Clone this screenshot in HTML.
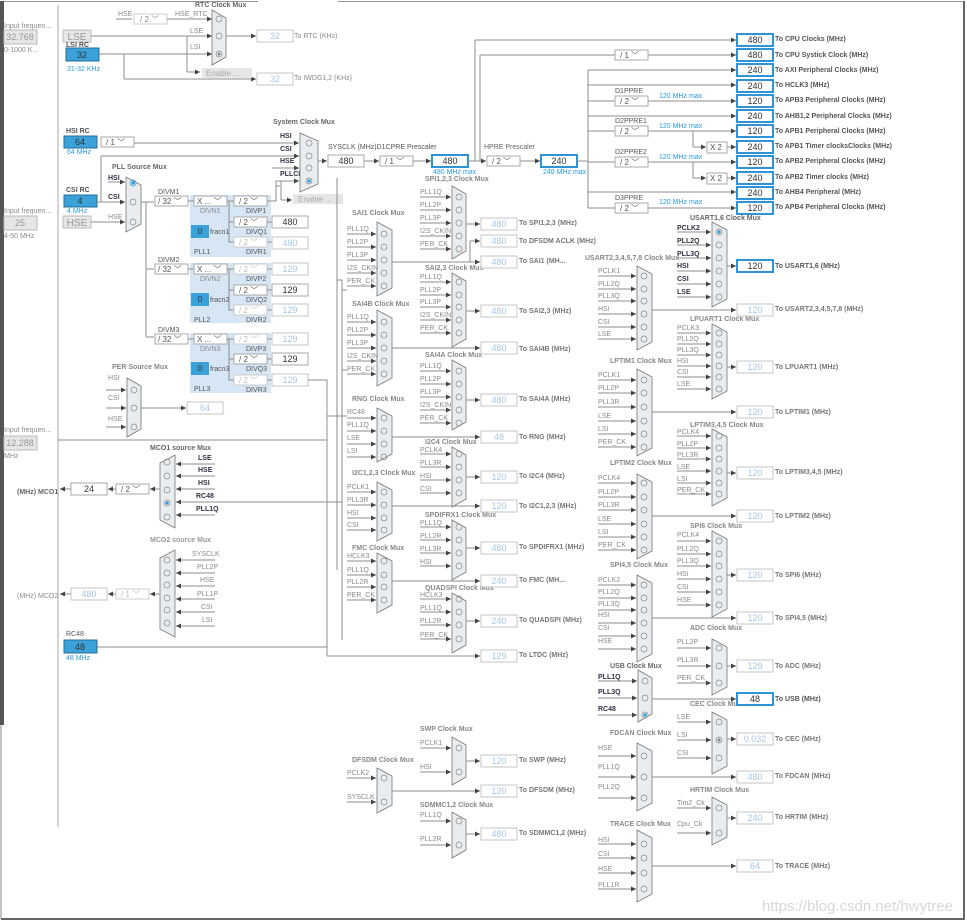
<!DOCTYPE html>
<html><head><meta charset="utf-8"><style>
html,body{margin:0;padding:0;background:#fff;}
svg{display:block}
text{font-family:"Liberation Sans",sans-serif;font-size:7px;fill:#8a8a8a}
.b{font-weight:bold;fill:#555}
.t{font-weight:bold;fill:#666}
.d{fill:#334;font-weight:bold}
.bl{fill:#2a9be0}
.v{font-size:9px;text-anchor:middle;fill:#a9c6e6}
.vd{font-size:9px;text-anchor:middle;fill:#333}
.bx{fill:#fff;stroke:#c4c4c4;stroke-width:1}
.ba{fill:#fff;stroke:#2f93d6;stroke-width:2}
.bn{fill:#fff;stroke:#aaa;stroke-width:1}
.dd{fill:#fff;stroke:#aaa;stroke-width:1}
.ddl{fill:#fff;stroke:#ccc;stroke-width:1}
.rc{fill:#3aa1d9;stroke:#256e9a;stroke-width:1}
.g{fill:#e4e6e8;stroke:#bbb}
.mx{fill:#e9edf0;stroke:#777;stroke-width:.8}
.pl{fill:#d6e6f4}
line,path.w{stroke:#8d8d8d;stroke-width:1;fill:none}
circle{fill:none;stroke:#888;stroke-width:.7}
circle.s{fill:#2a9be0;stroke:#2a9be0}
</style></head><body>
<svg width="967" height="923" viewBox="0 0 967 923" xmlns="http://www.w3.org/2000/svg">
<defs><marker id="a" markerWidth="6" markerHeight="6" refX="5" refY="3" orient="auto" markerUnits="userSpaceOnUse"><path d="M0,0.5L5,3L0,5.5z" fill="#444"/></marker></defs>
<rect x="0" y="1" width="4" height="724" fill="#555"/>
<line x1="4" y1="1.5" x2="258" y2="1.5" style="stroke:#999"/>
<line x1="338" y1="1.5" x2="963" y2="1.5" style="stroke:#999"/>
<line x1="964" y1="1" x2="964" y2="920" style="stroke:#666;stroke-width:2"/>
<line x1="1" y1="919" x2="964" y2="919" style="stroke:#666;stroke-width:2"/>
<line x1="1" y1="725" x2="1" y2="919" style="stroke:#888"/>
<line x1="58" y1="5" x2="58" y2="827" style="stroke:#aaa"/>

<text x="4" y="28">Input frequen...</text>
<rect x="4" y="30" width="33" height="14" class="g"/><text x="20" y="40" class="v" style="fill:#999">32.768</text>
<text x="4" y="52">0-1000 K...</text>
<rect x="63" y="30" width="28" height="12" class="g"/><text x="77" y="40" class="v" style="fill:#999;font-size:10px">LSE</text>
<text x="66" y="47" class="b">LSI RC</text>
<rect x="66" y="48" width="33" height="13" class="rc"/><text x="82" y="58" class="vd">32</text>
<text x="67" y="71" class="bl">31-32 KHz</text>
<text x="4" y="213">Input frequen...</text>
<rect x="4" y="216" width="33" height="14" class="g"/><text x="20" y="226" class="v" style="fill:#999">25</text>
<text x="4" y="238">4-50 MHz</text>
<rect x="63" y="216" width="28" height="12" class="g"/><text x="77" y="226" class="v" style="fill:#999;font-size:10px">HSE</text>
<text x="4" y="432">Input frequen...</text>
<rect x="4" y="436" width="33" height="14" class="g"/><text x="20" y="446" class="v" style="fill:#999">12.288</text>
<text x="4" y="458">MHz</text>

<text x="195" y="7" class="t">RTC Clock Mux</text>
<text x="118" y="16">HSE</text><line x1="116" y1="19" x2="132" y2="19"/>
<rect x="134" y="14" width="33" height="10" class="ddl"/><text x="140" y="22" style="font-size:8px">/ 2 ﹀</text>
<text x="175" y="16">HSE_RTC</text>
<g marker-end="url(#a)">
<line x1="167" y1="19" x2="212" y2="19"/>
<line x1="91" y1="36" x2="212" y2="36"/>
<line x1="99" y1="54" x2="212" y2="54"/>
<line x1="187" y1="72" x2="200" y2="72"/>
<line x1="226" y1="36" x2="256" y2="36"/>
<line x1="124" y1="79" x2="256" y2="79"/>
</g>
<line x1="187" y1="36" x2="187" y2="72"/>
<line x1="124" y1="54" x2="124" y2="79"/>
<text x="190" y="33">LSE</text><text x="190" y="49">LSI</text>
<polygon points="212,10 226,18 226,57 212,65" class="mx"/>
<circle cx="219" cy="19" r="3"/><circle cx="219" cy="36" r="3"/><circle cx="219" cy="54" r="3"/><circle cx="219" cy="54" r="1.2" style="fill:#888"/>
<rect x="202" y="68" width="50" height="10" fill="#e6e6e6"/><text x="206" y="76" style="font-size:8px;fill:#aaa">Enable ...</text>
<rect x="257" y="30" width="36" height="12" class="bx"/><text x="275" y="39" class="v">32</text><text x="294" y="38">To RTC (KHz)</text>
<rect x="257" y="73" width="36" height="12" class="bx"/><text x="275" y="82" class="v">32</text><text x="294" y="80">To IWDG1,2 (KHz)</text>

<text x="66" y="133" class="b">HSI RC</text>
<rect x="64" y="136" width="33" height="12" class="rc"/><text x="80" y="145" class="vd">64</text>
<text x="67" y="154" class="bl">64 MHz</text>
<rect x="101" y="137" width="33" height="10" class="dd"/><text x="106" y="145" style="font-size:8px;fill:#555">/ 1 ﹀</text>
<text x="66" y="192" class="b">CSI RC</text>
<rect x="64" y="195" width="33" height="12" class="rc"/><text x="80" y="204" class="vd">4</text>
<text x="67" y="213" class="bl">4 MHz</text>
<g marker-end="url(#a)">
<line x1="134" y1="143" x2="299" y2="143"/>
<line x1="101" y1="156" x2="299" y2="156"/>
<line x1="272" y1="168" x2="299" y2="168"/>
<line x1="281" y1="181" x2="299" y2="181"/>
<line x1="97" y1="202" x2="125" y2="202"/>
<line x1="108" y1="182" x2="125" y2="182"/>
<line x1="91" y1="222" x2="125" y2="222"/>
<line x1="318" y1="161" x2="327" y2="161"/>
<line x1="364" y1="161" x2="379" y2="161"/>
<line x1="413" y1="161" x2="431" y2="161"/>
<line x1="468" y1="161" x2="486" y2="161"/>
<line x1="520" y1="161" x2="540" y2="161"/>
<line x1="281" y1="200" x2="292" y2="200"/>
</g>
<path class="w" d="M101,202V156"/>
<path class="w" d="M281,200V181"/>
<path class="w" d="M276,199V181H281"/>
<text x="108" y="180" class="d">HSI</text><text x="108" y="199" class="d">CSI</text><text x="108" y="219">HSE</text>
<text x="112" y="169" class="t">PLL Source Mux</text>
<polygon points="126,177 141,185 141,224 126,232" class="mx"/>
<circle cx="133" cy="183" r="3" class="s" style="fill:none"/><circle cx="133" cy="183" r="1.3" class="s"/><circle cx="133" cy="202" r="3"/><circle cx="133" cy="222" r="3"/>

<text x="273" y="124" class="t">System Clock Mux</text>
<text x="280" y="138" class="d">HSI</text><text x="280" y="151" class="d">CSI</text><text x="280" y="163" class="d">HSE</text><text x="280" y="176" class="d">PLLCLK</text>
<polygon points="300,133 318,141 318,184 300,192" class="mx"/>
<circle cx="309" cy="143" r="3"/><circle cx="309" cy="156" r="3"/><circle cx="309" cy="168" r="3"/><circle cx="309" cy="181" r="3"/><circle cx="309" cy="181" r="1.3" class="s"/>
<rect x="293" y="194" width="50" height="10" fill="#e6e6e6"/><text x="298" y="202" style="font-size:8px;fill:#aaa">Enable ...</text>
<text x="328" y="149" style="fill:#555">SYSCLK (MHz)D1CPRE Prescaler</text>
<rect x="328" y="155" width="36" height="12" class="bn"/><text x="346" y="164" class="vd">480</text>
<rect x="380" y="156" width="33" height="10" class="dd"/><text x="385" y="164" style="font-size:8px;fill:#555">/ 1 ﹀</text>
<rect x="432" y="155" width="36" height="12" class="ba"/><text x="450" y="164" class="vd">480</text>
<text x="433" y="174" class="bl">480 MHz max</text>
<text x="484" y="149" style="fill:#666">HPRE Prescaler</text>
<rect x="487" y="156" width="33" height="10" class="dd"/><text x="492" y="164" style="font-size:8px;fill:#555">/ 2 ﹀</text>
<rect x="541" y="155" width="36" height="12" class="ba"/><text x="559" y="164" class="vd">240</text>
<text x="543" y="174" class="bl">240 MHz max</text>

<path class="w" d="M468,161H475V40"/>
<g marker-end="url(#a)">
<line x1="475" y1="40" x2="736" y2="40"/>
<line x1="648" y1="55" x2="736" y2="55"/>
<line x1="588" y1="70" x2="736" y2="70"/>
<line x1="588" y1="85" x2="736" y2="85"/>
<line x1="648" y1="101" x2="736" y2="101"/>
<line x1="588" y1="116" x2="736" y2="116"/>
<line x1="648" y1="131" x2="736" y2="131"/>
<line x1="693" y1="147" x2="706" y2="147"/>
<line x1="727" y1="147" x2="736" y2="147"/>
<line x1="648" y1="162" x2="736" y2="162"/>
<line x1="693" y1="178" x2="706" y2="178"/>
<line x1="727" y1="178" x2="736" y2="178"/>
<line x1="588" y1="192" x2="736" y2="192"/>
<line x1="648" y1="208" x2="736" y2="208"/>
</g>
<line x1="480" y1="55" x2="615" y2="55"/>
<path class="w" d="M480,161V55"/>
<path class="w" d="M577,161H588M588,70V208M588,101H615M588,131H615M588,162H615M588,208H615M693,131V147M693,162V178"/>
<rect x="615" y="50" width="33" height="10" class="dd"/><text x="620" y="58" style="font-size:8px;fill:#555">/ 1 ﹀</text>
<text x="615" y="93" style="fill:#555">D1PPRE</text><rect x="615" y="96" width="33" height="10" class="dd"/><text x="620" y="104" style="font-size:8px;fill:#555">/ 2 ﹀</text>
<text x="615" y="123" style="fill:#555">D2PPRE1</text><rect x="615" y="126" width="33" height="10" class="dd"/><text x="620" y="134" style="font-size:8px;fill:#555">/ 2 ﹀</text>
<text x="615" y="154" style="fill:#555">D2PPRE2</text><rect x="615" y="157" width="33" height="10" class="dd"/><text x="620" y="165" style="font-size:8px;fill:#555">/ 2 ﹀</text>
<text x="615" y="200" style="fill:#555">D3PPRE</text><rect x="615" y="203" width="33" height="10" class="dd"/><text x="620" y="211" style="font-size:8px;fill:#555">/ 2 ﹀</text>
<text x="659" y="98" class="bl">120 MHz max</text><text x="659" y="128" class="bl">120 MHz max</text><text x="659" y="159" class="bl">120 MHz max</text><text x="659" y="204" class="bl">120 MHz max</text>
<rect x="707" y="142" width="20" height="11" class="bn"/><text x="710" y="150" style="font-size:8px;fill:#555">X 2</text>
<rect x="707" y="173" width="20" height="11" class="bn"/><text x="710" y="181" style="font-size:8px;fill:#555">X 2</text>
<rect x="737" y="34" width="36" height="12" class="ba"/><text x="755" y="43" class="vd">480</text><text x="775" y="41" class="b">To CPU Clocks (MHz)</text>
<rect x="737" y="49" width="36" height="12" class="ba"/><text x="755" y="58" class="vd">480</text><text x="775" y="57" class="b">To CPU Systick Clock (MHz)</text>
<rect x="737" y="64" width="36" height="12" class="ba"/><text x="755" y="73" class="vd">240</text><text x="775" y="72" class="b">To AXI Peripheral Clocks (MHz)</text>
<rect x="737" y="80" width="36" height="12" class="ba"/><text x="755" y="89" class="vd">240</text><text x="775" y="87" class="b">To HCLK3 (MHz)</text>
<rect x="737" y="95" width="36" height="12" class="ba"/><text x="755" y="104" class="vd">120</text><text x="775" y="102" class="b">To APB3 Peripheral Clocks (MHz)</text>
<rect x="737" y="110" width="36" height="12" class="ba"/><text x="755" y="119" class="vd">240</text><text x="775" y="118" class="b">To AHB1,2 Peripheral Clocks (MHz)</text>
<rect x="737" y="125" width="36" height="12" class="ba"/><text x="755" y="134" class="vd">120</text><text x="775" y="133" class="b">To APB1 Peripheral Clocks (MHz)</text>
<rect x="737" y="141" width="36" height="12" class="ba"/><text x="755" y="150" class="vd">240</text><text x="775" y="148" class="b">To APB1 Timer clocksClocks (MHz)</text>
<rect x="737" y="156" width="36" height="12" class="ba"/><text x="755" y="165" class="vd">120</text><text x="775" y="163" class="b">To APB2 Peripheral Clocks (MHz)</text>
<rect x="737" y="172" width="36" height="12" class="ba"/><text x="755" y="181" class="vd">240</text><text x="775" y="179" class="b">To APB2 Timer clocks (MHz)</text>
<rect x="737" y="187" width="36" height="12" class="ba"/><text x="755" y="196" class="vd">240</text><text x="775" y="194" class="b">To AHB4 Peripheral (MHz)</text>
<rect x="737" y="202" width="36" height="12" class="ba"/><text x="755" y="211" class="vd">120</text><text x="775" y="209" class="b">To APB4 Peripheral Clocks (MHz)</text>

<rect x="190" y="195" width="81" height="62" class="pl"/>
<rect x="190" y="263" width="81" height="60" class="pl"/>
<rect x="190" y="333" width="81" height="60" class="pl"/>
<path class="w" d="M141,202H146V337M146,269H154M146,337H154M146,202H154"/>
<text x="158" y="194" style="fill:#555">DIVM1</text><text x="158" y="262" style="fill:#555">DIVM2</text><text x="158" y="332" style="fill:#555">DIVM3</text>
<rect x="155" y="196" width="33" height="10" class="dd"/><text x="158" y="204" style="font-size:8px;fill:#555">/ 32 ﹀</text>
<rect x="155" y="264" width="33" height="10" class="dd"/><text x="158" y="272" style="font-size:8px;fill:#555">/ 32 ﹀</text>
<rect x="155" y="334" width="33" height="10" class="dd"/><text x="158" y="342" style="font-size:8px;fill:#555">/ 32 ﹀</text>
<rect x="194" y="196" width="33" height="10" class="dd"/><text x="197" y="204" style="font-size:8px;fill:#555">X ... ﹀</text>
<rect x="194" y="264" width="33" height="10" class="dd"/><text x="197" y="272" style="font-size:8px;fill:#555">X ... ﹀</text>
<rect x="194" y="334" width="33" height="10" class="dd"/><text x="197" y="342" style="font-size:8px;fill:#555">X ... ﹀</text>
<path class="w" d="M188,201H194M188,269H194M188,339H194M227,201H234M227,269H234M227,339H234M229,201V242H234M229,222H234M229,269V310H234M229,290H234M229,339V380H234M229,359H234M267,201H276V186H280M267,222H272M267,242H272M267,290H272M267,269H272M267,310H272M267,339H272M267,359H272M267,380H272"/>
<text x="200" y="213">DIVN1</text><text x="200" y="281">DIVN2</text><text x="200" y="351">DIVN3</text>
<rect x="234" y="196" width="33" height="10" class="dd"/><text x="239" y="204" style="font-size:8px;fill:#555">/ 2 ﹀</text><text x="246" y="213" style="fill:#555">DIVP1</text>
<rect x="234" y="217" width="33" height="10" class="dd"/><text x="239" y="225" style="font-size:8px;fill:#555">/ 2 ﹀</text><text x="246" y="234" style="fill:#555">DIVQ1</text>
<rect x="234" y="237" width="33" height="10" class="ddl"/><text x="239" y="245" style="font-size:8px;fill:#bbb">/ 2 ﹀</text><text x="246" y="254" style="fill:#555">DIVR1</text>
<rect x="191" y="225" width="18" height="13" class="rc" style="stroke:none"/><text x="200" y="234" class="vd" style="font-size:8px">0</text><text x="210" y="234" style="fill:#555">fracn1</text>
<text x="194" y="254" style="fill:#555">PLL1</text>
<rect x="272" y="216" width="36" height="12" class="bn"/><text x="290" y="225" class="vd">480</text>
<rect x="272" y="237" width="36" height="12" class="bx"/><text x="290" y="246" class="v">480</text>
<rect x="234" y="264" width="33" height="10" class="ddl"/><text x="239" y="272" style="font-size:8px;fill:#bbb">/ 2 ﹀</text><text x="246" y="281" style="fill:#555">DIVP2</text>
<rect x="234" y="285" width="33" height="10" class="dd"/><text x="239" y="293" style="font-size:8px;fill:#555">/ 2 ﹀</text><text x="246" y="302" style="fill:#555">DIVQ2</text>
<rect x="234" y="305" width="33" height="10" class="ddl"/><text x="239" y="313" style="font-size:8px;fill:#bbb">/ 2 ﹀</text><text x="246" y="322" style="fill:#555">DIVR2</text>
<rect x="191" y="293" width="18" height="13" class="rc" style="stroke:none"/><text x="200" y="302" class="vd" style="font-size:8px">0</text><text x="210" y="302" style="fill:#555">fracn2</text>
<text x="194" y="322" style="fill:#555">PLL2</text>
<rect x="272" y="263" width="36" height="12" class="bx"/><text x="290" y="272" class="v">129</text>
<rect x="272" y="284" width="36" height="12" class="bn"/><text x="290" y="293" class="vd">129</text>
<rect x="272" y="304" width="36" height="12" class="bx"/><text x="290" y="313" class="v">129</text>
<rect x="234" y="334" width="33" height="10" class="ddl"/><text x="239" y="342" style="font-size:8px;fill:#bbb">/ 2 ﹀</text><text x="246" y="351" style="fill:#555">DIVP3</text>
<rect x="234" y="354" width="33" height="10" class="dd"/><text x="239" y="362" style="font-size:8px;fill:#555">/ 2 ﹀</text><text x="246" y="371" style="fill:#555">DIVQ3</text>
<rect x="234" y="375" width="33" height="10" class="ddl"/><text x="239" y="383" style="font-size:8px;fill:#bbb">/ 2 ﹀</text><text x="246" y="392" style="fill:#555">DIVR3</text>
<rect x="191" y="362" width="18" height="13" class="rc" style="stroke:none"/><text x="200" y="371" class="vd" style="font-size:8px">0</text><text x="210" y="371" style="fill:#555">fracn3</text>
<text x="194" y="391" style="fill:#555">PLL3</text>
<rect x="272" y="333" width="36" height="12" class="bx"/><text x="290" y="342" class="v">129</text>
<rect x="272" y="353" width="36" height="12" class="bn"/><text x="290" y="362" class="vd">129</text>
<rect x="272" y="374" width="36" height="12" class="bx"/><text x="290" y="383" class="v">129</text>

<text x="112" y="369" class="t" style="fill:#888">PER Source Mux</text>
<text x="108" y="380">HSI</text><text x="108" y="400">CSI</text><text x="108" y="421">HSE</text>
<g marker-end="url(#a)">
<line x1="106" y1="390" x2="126" y2="390"/><line x1="106" y1="408" x2="126" y2="408"/><line x1="106" y1="427" x2="126" y2="427"/>
<line x1="141" y1="408" x2="186" y2="408"/>
</g>
<polygon points="127,378 141,386 141,429 127,437" class="mx"/>
<circle cx="134" cy="390" r="3"/><circle cx="134" cy="408" r="3"/><circle cx="134" cy="427" r="3"/>
<rect x="187" y="402" width="36" height="12" class="bx"/><text x="205" y="411" class="v">64</text>

<path class="w" d="M58,440H327M308,380H327V656M337,178V570M327,647H97"/>
<path class="w" d="M337,280H342V640M342,290H347M342,370H347M327,416H347M327,502H342"/>
<g marker-end="url(#a)"><line x1="327" y1="656" x2="480" y2="656"/></g>
<rect x="481" y="650" width="36" height="12" class="bx"/><text x="499" y="659" class="v">129</text><text x="519" y="657" class="b" style="fill:#777">To LTDC (MHz)</text>

<text x="150" y="450" class="t">MCO1 source Mux</text>
<polygon points="160,463 175,455 175,528 160,520" class="mx"/>
<circle cx="167" cy="462" r="3"/><circle cx="167" cy="476" r="3"/><circle cx="167" cy="490" r="3"/><circle cx="167" cy="503" r="3"/><circle cx="167" cy="503" r="1.3" class="s"/><circle cx="167" cy="517" r="3"/>
<text x="198" y="460" class="d">LSE</text><text x="198" y="472" class="d">HSE</text><text x="198" y="485" class="d">HSI</text><text x="196" y="498" class="d">RC48</text><text x="196" y="511" class="d">PLL1Q</text>
<g marker-end="url(#a)">
<line x1="215" y1="464" x2="176" y2="464"/><line x1="215" y1="476" x2="176" y2="476"/><line x1="215" y1="489" x2="176" y2="489"/><line x1="327" y1="502" x2="176" y2="502"/><line x1="215" y1="515" x2="176" y2="515"/>
<line x1="160" y1="489" x2="150" y2="489"/><line x1="116" y1="489" x2="108" y2="489"/><line x1="71" y1="489" x2="60" y2="489"/>
</g>
<rect x="116" y="484" width="33" height="10" class="dd"/><text x="121" y="492" style="font-size:8px;fill:#555">/ 2 ﹀</text>
<rect x="71" y="483" width="36" height="12" class="bn"/><text x="89" y="492" class="vd">24</text>
<text x="17" y="494" class="b" style="fill:#666">(MHz) MCO1</text>
<text x="150" y="542" class="t" style="fill:#999">MCO2 source Mux</text>
<polygon points="160,558 175,550 175,637 160,629" class="mx"/>
<circle cx="167" cy="560" r="3"/><circle cx="167" cy="573" r="3"/><circle cx="167" cy="585" r="3"/><circle cx="167" cy="598" r="3"/><circle cx="167" cy="610" r="3"/><circle cx="167" cy="623" r="3"/>
<text x="192" y="556">SYSCLK</text><text x="197" y="569">PLL2P</text><text x="200" y="582">HSE</text><text x="197" y="596">PLL1P</text><text x="201" y="609">CSI</text><text x="202" y="622">LSI</text>
<g marker-end="url(#a)">
<line x1="215" y1="560" x2="176" y2="560"/><line x1="215" y1="573" x2="176" y2="573"/><line x1="215" y1="586" x2="176" y2="586"/><line x1="215" y1="599" x2="176" y2="599"/><line x1="215" y1="612" x2="176" y2="612"/><line x1="215" y1="626" x2="176" y2="626"/>
<line x1="160" y1="594" x2="150" y2="594"/><line x1="116" y1="594" x2="108" y2="594"/><line x1="71" y1="594" x2="60" y2="594"/>
</g>
<rect x="116" y="589" width="33" height="10" class="ddl"/><text x="121" y="597" style="font-size:8px;fill:#bbb">/ 1 ﹀</text>
<rect x="71" y="588" width="36" height="12" class="bx"/><text x="89" y="597" class="v">480</text>
<text x="17" y="598">(MHz) MCO2</text>
<text x="66" y="636" style="fill:#555">RC48</text>
<rect x="64" y="640" width="33" height="13" class="rc"/><text x="80" y="650" class="vd">48</text>
<text x="66" y="660" class="bl">48 MHz</text>

<text x="352" y="215" class="t" style="fill:#888">SAI1 Clock Mux</text>
<polygon points="377,222 392,230 392,288 377,296" class="mx"/>
<text x="347" y="231">PLL1Q</text><text x="347" y="244">PLL2P</text><text x="347" y="257">PLL3P</text><text x="347" y="270">I2S_CKIN</text><text x="347" y="283">PER_CK</text>
<circle cx="384" cy="234" r="3"/><circle cx="384" cy="247" r="3"/><circle cx="384" cy="260" r="3"/><circle cx="384" cy="273" r="3"/><circle cx="384" cy="286" r="3"/>
<text x="352" y="306" class="t" style="fill:#888">SAI4B Clock Mux</text>
<polygon points="377,310 392,318 392,378 377,386" class="mx"/>
<text x="347" y="319">PLL1Q</text><text x="347" y="332">PLL2P</text><text x="347" y="345">PLL3P</text><text x="347" y="358">I2S_CKIN</text><text x="347" y="371">PER_CK</text>
<circle cx="384" cy="322" r="3"/><circle cx="384" cy="335" r="3"/><circle cx="384" cy="348" r="3"/><circle cx="384" cy="361" r="3"/><circle cx="384" cy="374" r="3"/>
<text x="352" y="401" class="t" style="fill:#888">RNG Clock Mux</text>
<polygon points="377,408 392,416 392,454 377,462" class="mx"/>
<text x="347" y="414">RC48</text><text x="347" y="427">PLL1Q</text><text x="347" y="440">LSE</text><text x="347" y="453">LSI</text>
<circle cx="384" cy="418" r="3"/><circle cx="384" cy="431" r="3"/><circle cx="384" cy="444" r="3"/><circle cx="384" cy="457" r="3"/>
<text x="352" y="475" class="t" style="fill:#888">I2C1,2,3 Clock Mux</text>
<polygon points="377,482 392,490 392,533 377,541" class="mx"/>
<text x="347" y="489">PCLK1</text><text x="347" y="502">PLL3R</text><text x="347" y="515">HSI</text><text x="347" y="527">CSI</text>
<circle cx="384" cy="492" r="3"/><circle cx="384" cy="505" r="3"/><circle cx="384" cy="518" r="3"/><circle cx="384" cy="530" r="3"/>
<text x="352" y="550" class="t" style="fill:#888">FMC Clock Mux</text>
<polygon points="377,553 392,561 392,605 377,613" class="mx"/>
<text x="347" y="558">HCLK3</text><text x="347" y="572">PLL1Q</text><text x="347" y="584">PLL2R</text><text x="347" y="597">PER_CK</text>
<circle cx="384" cy="561" r="3"/><circle cx="384" cy="575" r="3"/><circle cx="384" cy="587" r="3"/><circle cx="384" cy="600" r="3"/>
<text x="352" y="762" class="t" style="fill:#888">DFSDM Clock Mux</text>
<polygon points="377,768 392,776 392,805 377,813" class="mx"/>
<text x="347" y="775">PCLK2</text><text x="347" y="799">SYSCLK</text>
<circle cx="384" cy="778" r="3"/><circle cx="384" cy="802" r="3"/>
<g marker-end="url(#a)">
<line x1="347" y1="234" x2="376" y2="234"/><line x1="347" y1="247" x2="376" y2="247"/><line x1="347" y1="260" x2="376" y2="260"/><line x1="347" y1="273" x2="376" y2="273"/><line x1="347" y1="286" x2="376" y2="286"/>
<line x1="347" y1="322" x2="376" y2="322"/><line x1="347" y1="335" x2="376" y2="335"/><line x1="347" y1="348" x2="376" y2="348"/><line x1="347" y1="361" x2="376" y2="361"/><line x1="347" y1="374" x2="376" y2="374"/>
<line x1="347" y1="418" x2="376" y2="418"/><line x1="347" y1="431" x2="376" y2="431"/><line x1="347" y1="444" x2="376" y2="444"/><line x1="347" y1="457" x2="376" y2="457"/>
<line x1="347" y1="492" x2="376" y2="492"/><line x1="347" y1="505" x2="376" y2="505"/><line x1="347" y1="518" x2="376" y2="518"/><line x1="347" y1="530" x2="376" y2="530"/>
<line x1="347" y1="561" x2="376" y2="561"/><line x1="347" y1="575" x2="376" y2="575"/><line x1="347" y1="587" x2="376" y2="587"/><line x1="347" y1="600" x2="376" y2="600"/>
<line x1="347" y1="778" x2="376" y2="778"/><line x1="347" y1="802" x2="376" y2="802"/>
<line x1="392" y1="262" x2="480" y2="262"/><line x1="392" y1="348" x2="480" y2="348"/><line x1="392" y1="437" x2="480" y2="437"/><line x1="392" y1="506" x2="480" y2="506"/><line x1="392" y1="581" x2="480" y2="581"/><line x1="392" y1="791" x2="480" y2="791"/>
<line x1="470" y1="241" x2="480" y2="241"/>
</g>
<path class="w" d="M470,241V262"/>

<text x="425" y="181" class="t" style="fill:#888">SPI1,2,3 Clock Mux</text>
<polygon points="452,186 466,194 466,251 452,259" class="mx"/>
<text x="420" y="194">PLL1Q</text><text x="420" y="207">PLL2P</text><text x="420" y="220">PLL3P</text><text x="420" y="233">I2S_CKIN</text><text x="420" y="246">PER_CK</text>
<circle cx="459" cy="197" r="3"/><circle cx="459" cy="210" r="3"/><circle cx="459" cy="223" r="3"/><circle cx="459" cy="236" r="3"/><circle cx="459" cy="249" r="3"/>
<text x="425" y="270" class="t" style="fill:#888">SAI2,3 Clock Mux</text>
<polygon points="452,273 466,281 466,339 452,347" class="mx"/>
<text x="420" y="279">PLL1Q</text><text x="420" y="292">PLL2P</text><text x="420" y="304">PLL3P</text><text x="420" y="317">I2S_CKIN</text><text x="420" y="330">PER_CK</text>
<circle cx="459" cy="282" r="3"/><circle cx="459" cy="295" r="3"/><circle cx="459" cy="307" r="3"/><circle cx="459" cy="320" r="3"/><circle cx="459" cy="333" r="3"/>
<text x="425" y="357" class="t" style="fill:#888">SAI4A Clock Mux</text>
<polygon points="452,360 466,368 466,422 452,430" class="mx"/>
<text x="420" y="368">PLL1Q</text><text x="420" y="381">PLL2P</text><text x="420" y="394">PLL3P</text><text x="420" y="407">I2S_CKIN</text><text x="420" y="420">PER_CK</text>
<circle cx="459" cy="371" r="3"/><circle cx="459" cy="384" r="3"/><circle cx="459" cy="397" r="3"/><circle cx="459" cy="410" r="3"/><circle cx="459" cy="423" r="3"/>
<text x="425" y="444" class="t" style="fill:#888">I2C4 Clock Mux</text>
<polygon points="452,447 466,455 466,499 452,507" class="mx"/>
<text x="420" y="452">PCLK4</text><text x="420" y="465">PLL3R</text><text x="420" y="478">HSI</text><text x="420" y="491">CSI</text>
<circle cx="459" cy="454" r="3"/><circle cx="459" cy="467" r="3"/><circle cx="459" cy="480" r="3"/><circle cx="459" cy="493" r="3"/>
<text x="425" y="517" class="t" style="fill:#888">SPDIFRX1 Clock Mux</text>
<polygon points="452,520 466,528 466,572 452,580" class="mx"/>
<text x="420" y="525">PLL1Q</text><text x="420" y="538">PLL2R</text><text x="420" y="551">PLL3R</text><text x="420" y="564">HSI</text>
<circle cx="459" cy="527" r="3"/><circle cx="459" cy="540" r="3"/><circle cx="459" cy="553" r="3"/><circle cx="459" cy="566" r="3"/>
<text x="425" y="590" class="t" style="fill:#888">QUADSPI Clock Mux</text>
<polygon points="452,593 466,601 466,645 452,653" class="mx"/>
<text x="420" y="597">HCLK3</text><text x="420" y="610">PLL1Q</text><text x="420" y="623">PLL2R</text><text x="420" y="637">PER_CK</text>
<circle cx="459" cy="599" r="3"/><circle cx="459" cy="612" r="3"/><circle cx="459" cy="625" r="3"/><circle cx="459" cy="639" r="3"/>
<text x="420" y="731" class="t" style="fill:#888">SWP Clock Mux</text>
<polygon points="452,737 466,745 466,777 452,785" class="mx"/>
<text x="420" y="745">PCLK1</text><text x="420" y="769">HSI</text>
<circle cx="459" cy="748" r="3"/><circle cx="459" cy="772" r="3"/>
<text x="420" y="807" class="t" style="fill:#888">SDMMC1,2 Clock Mux</text>
<polygon points="452,812 466,820 466,850 452,858" class="mx"/>
<text x="420" y="817">PLL1Q</text><text x="420" y="841">PLL2R</text>
<circle cx="459" cy="821" r="3"/><circle cx="459" cy="845" r="3"/>
<g marker-end="url(#a)">
<line x1="420" y1="197" x2="451" y2="197"/><line x1="420" y1="210" x2="451" y2="210"/><line x1="420" y1="223" x2="451" y2="223"/><line x1="420" y1="236" x2="451" y2="236"/><line x1="420" y1="249" x2="451" y2="249"/>
<line x1="420" y1="282" x2="451" y2="282"/><line x1="420" y1="295" x2="451" y2="295"/><line x1="420" y1="307" x2="451" y2="307"/><line x1="420" y1="320" x2="451" y2="320"/><line x1="420" y1="333" x2="451" y2="333"/>
<line x1="420" y1="371" x2="451" y2="371"/><line x1="420" y1="384" x2="451" y2="384"/><line x1="420" y1="397" x2="451" y2="397"/><line x1="420" y1="410" x2="451" y2="410"/><line x1="420" y1="423" x2="451" y2="423"/>
<line x1="420" y1="454" x2="451" y2="454"/><line x1="420" y1="467" x2="451" y2="467"/><line x1="420" y1="480" x2="451" y2="480"/><line x1="420" y1="493" x2="451" y2="493"/>
<line x1="420" y1="527" x2="451" y2="527"/><line x1="420" y1="540" x2="451" y2="540"/><line x1="420" y1="553" x2="451" y2="553"/><line x1="420" y1="566" x2="451" y2="566"/>
<line x1="420" y1="599" x2="451" y2="599"/><line x1="420" y1="612" x2="451" y2="612"/><line x1="420" y1="625" x2="451" y2="625"/><line x1="420" y1="639" x2="451" y2="639"/>
<line x1="420" y1="748" x2="451" y2="748"/><line x1="420" y1="772" x2="451" y2="772"/>
<line x1="420" y1="821" x2="451" y2="821"/><line x1="420" y1="845" x2="451" y2="845"/>
<line x1="466" y1="224" x2="480" y2="224"/><line x1="466" y1="311" x2="480" y2="311"/><line x1="466" y1="400" x2="480" y2="400"/><line x1="466" y1="477" x2="480" y2="477"/><line x1="466" y1="548" x2="480" y2="548"/><line x1="466" y1="621" x2="480" y2="621"/><line x1="466" y1="761" x2="480" y2="761"/><line x1="466" y1="834" x2="480" y2="834"/>
</g>
<rect x="481" y="218" width="36" height="12" class="bx"/><text x="499" y="227" class="v">480</text><text x="519" y="225" class="b" style="fill:#777">To SPI1,2,3 (MHz)</text>
<rect x="481" y="235" width="36" height="12" class="bx"/><text x="499" y="244" class="v">480</text><text x="519" y="243" class="b" style="fill:#777">To DFSDM ACLK (MHz)</text>
<rect x="481" y="256" width="36" height="12" class="bx"/><text x="499" y="265" class="v">480</text><text x="519" y="263" class="b" style="fill:#777">To SAI1 (MH...</text>
<rect x="481" y="305" width="36" height="12" class="bx"/><text x="499" y="314" class="v">480</text><text x="519" y="313" class="b" style="fill:#777">To SAI2,3 (MHz)</text>
<rect x="481" y="342" width="36" height="12" class="bx"/><text x="499" y="351" class="v">480</text><text x="519" y="351" class="b" style="fill:#777">To SAI4B (MHz)</text>
<rect x="481" y="394" width="36" height="12" class="bx"/><text x="499" y="403" class="v">480</text><text x="519" y="401" class="b" style="fill:#777">To SAI4A (MHz)</text>
<rect x="481" y="431" width="36" height="12" class="bx"/><text x="499" y="440" class="v">48</text><text x="519" y="439" class="b" style="fill:#777">To RNG (MHz)</text>
<rect x="481" y="471" width="36" height="12" class="bx"/><text x="499" y="480" class="v">120</text><text x="519" y="478" class="b" style="fill:#777">To I2C4 (MHz)</text>
<rect x="481" y="500" width="36" height="12" class="bx"/><text x="499" y="509" class="v">120</text><text x="519" y="508" class="b" style="fill:#777">To I2C1,2,3 (MHz)</text>
<rect x="481" y="542" width="36" height="12" class="bx"/><text x="499" y="551" class="v">480</text><text x="519" y="549" class="b" style="fill:#777">To SPDIFRX1 (MHz)</text>
<rect x="481" y="575" width="36" height="12" class="bx"/><text x="499" y="584" class="v">240</text><text x="519" y="582" class="b" style="fill:#777">To FMC (MH...</text>
<rect x="481" y="615" width="36" height="12" class="bx"/><text x="499" y="624" class="v">240</text><text x="519" y="622" class="b" style="fill:#777">To QUADSPI (MHz)</text>
<rect x="481" y="755" width="36" height="12" class="bx"/><text x="499" y="764" class="v">120</text><text x="519" y="762" class="b" style="fill:#777">To SWP (MHz)</text>
<rect x="481" y="785" width="36" height="12" class="bx"/><text x="499" y="794" class="v">120</text><text x="519" y="792" class="b" style="fill:#777">To DFSDM (MHz)</text>
<rect x="481" y="828" width="36" height="12" class="bx"/><text x="499" y="837" class="v">480</text><text x="519" y="835" class="b" style="fill:#777">To SDMMC1,2 (MHz)</text>

<text x="585" y="260" class="t" style="fill:#888">USART2,3,4,5,7,8 Clock Mux</text>
<polygon points="637,266 652,274 652,342 637,350" class="mx"/>
<text x="598" y="273">PCLK1</text><text x="598" y="286">PLL2Q</text><text x="598" y="298">PLL3Q</text><text x="598" y="311">HSI</text><text x="598" y="324">CSI</text><text x="598" y="336">LSE</text>
<circle cx="644" cy="276" r="3"/><circle cx="644" cy="289" r="3"/><circle cx="644" cy="301" r="3"/><circle cx="644" cy="314" r="3"/><circle cx="644" cy="327" r="3"/><circle cx="644" cy="339" r="3"/>
<text x="610" y="363" class="t" style="fill:#888">LPTIM1 Clock Mux</text>
<polygon points="637,369 652,377 652,448 637,456" class="mx"/>
<text x="598" y="377">PCLK1</text><text x="598" y="390">PLL2P</text><text x="598" y="404">PLL3R</text><text x="598" y="418">LSE</text><text x="598" y="431">LSI</text><text x="598" y="444">PER_CK</text>
<circle cx="644" cy="380" r="3"/><circle cx="644" cy="393" r="3"/><circle cx="644" cy="407" r="3"/><circle cx="644" cy="421" r="3"/><circle cx="644" cy="434" r="3"/><circle cx="644" cy="447" r="3"/>
<text x="610" y="465" class="t" style="fill:#888">LPTIM2 Clock Mux</text>
<polygon points="637,474 652,482 652,551 637,559" class="mx"/>
<text x="598" y="480">PCLK4</text><text x="598" y="494">PLL2P</text><text x="598" y="507">PLL3R</text><text x="598" y="521">LSE</text><text x="598" y="534">LSI</text><text x="598" y="547">PER_CK</text>
<circle cx="644" cy="483" r="3"/><circle cx="644" cy="497" r="3"/><circle cx="644" cy="510" r="3"/><circle cx="644" cy="524" r="3"/><circle cx="644" cy="537" r="3"/><circle cx="644" cy="550" r="3"/>
<text x="610" y="567" class="t" style="fill:#888">SPI4,5 Clock Mux</text>
<polygon points="637,575 652,583 652,654 637,662" class="mx"/>
<text x="598" y="582">PCLK2</text><text x="598" y="594">PLL2Q</text><text x="598" y="606">PLL3Q</text><text x="598" y="617">HSI</text><text x="598" y="630">CSI</text><text x="598" y="643">HSE</text>
<circle cx="644" cy="585" r="3"/><circle cx="644" cy="598" r="3"/><circle cx="644" cy="610" r="3"/><circle cx="644" cy="623" r="3"/><circle cx="644" cy="636" r="3"/><circle cx="644" cy="649" r="3"/>
<text x="610" y="668" class="t">USB Clock Mux</text>
<polygon points="638,670 652,678 652,714 638,722" class="mx"/>
<text x="598" y="679" class="d">PLL1Q</text><text x="598" y="694" class="d">PLL3Q</text><text x="598" y="711" class="d">RC48</text>
<circle cx="645" cy="681" r="3"/><circle cx="645" cy="698" r="3"/><circle cx="645" cy="715" r="3"/><circle cx="645" cy="715" r="1.3" class="s"/>
<text x="610" y="735" class="t" style="fill:#888">FDCAN Clock Mux</text>
<polygon points="637,743 652,751 652,803 637,811" class="mx"/>
<text x="598" y="750">HSE</text><text x="598" y="769">PLL1Q</text><text x="598" y="789">PLL2Q</text>
<circle cx="644" cy="756" r="3"/><circle cx="644" cy="777" r="3"/><circle cx="644" cy="798" r="3"/>
<text x="610" y="826" class="t" style="fill:#888">TRACE Clock Mux</text>
<polygon points="637,830 652,838 652,894 637,902" class="mx"/>
<text x="598" y="842">HSI</text><text x="598" y="856">CSI</text><text x="598" y="871">HSE</text><text x="598" y="887">PLL1R</text>
<circle cx="644" cy="844" r="3"/><circle cx="644" cy="858" r="3"/><circle cx="644" cy="873" r="3"/><circle cx="644" cy="889" r="3"/>

<text x="690" y="220" class="t">USART1,6 Clock Mux</text>
<polygon points="712,222 727,230 727,299 712,307" class="mx"/>
<text x="677" y="230" class="d">PCLK2</text><text x="677" y="243" class="d">PLL2Q</text><text x="677" y="256" class="d">PLL3Q</text><text x="677" y="268" class="d">HSI</text><text x="677" y="281" class="d">CSI</text><text x="677" y="294" class="d">LSE</text>
<circle cx="719" cy="232" r="3"/><circle cx="719" cy="232" r="1.3" class="s"/><circle cx="719" cy="245" r="3"/><circle cx="719" cy="258" r="3"/><circle cx="719" cy="271" r="3"/><circle cx="719" cy="284" r="3"/><circle cx="719" cy="297" r="3"/>
<text x="690" y="321" class="t" style="fill:#888">LPUART1 Clock Mux</text>
<polygon points="712,324 727,332 727,391 712,399" class="mx"/>
<text x="677" y="330">PCLK3</text><text x="677" y="341">PLL2Q</text><text x="677" y="352">PLL3Q</text><text x="677" y="363">HSI</text><text x="677" y="374">CSI</text><text x="677" y="386">LSE</text>
<circle cx="719" cy="333" r="3"/><circle cx="719" cy="344" r="3"/><circle cx="719" cy="355" r="3"/><circle cx="719" cy="366" r="3"/><circle cx="719" cy="377" r="3"/><circle cx="719" cy="389" r="3"/>
<text x="690" y="427" class="t" style="fill:#888">LPTIM3,4,5 Clock Mux</text>
<polygon points="712,429 727,437 727,498 712,506" class="mx"/>
<text x="677" y="434">PCLK4</text><text x="677" y="446">PLL2P</text><text x="677" y="457">PLL3R</text><text x="677" y="469">LSE</text><text x="677" y="481">LSI</text><text x="677" y="492">PER_CK</text>
<circle cx="719" cy="436" r="3"/><circle cx="719" cy="448" r="3"/><circle cx="719" cy="459" r="3"/><circle cx="719" cy="471" r="3"/><circle cx="719" cy="483" r="3"/><circle cx="719" cy="494" r="3"/>
<text x="690" y="528" class="t" style="fill:#888">SPI6 Clock Mux</text>
<polygon points="712,531 727,539 727,609 712,617" class="mx"/>
<text x="677" y="537">PCLK4</text><text x="677" y="551">PLL2Q</text><text x="677" y="563">PLL3Q</text><text x="677" y="576">HSI</text><text x="677" y="589">CSI</text><text x="677" y="602">HSE</text>
<circle cx="719" cy="541" r="3"/><circle cx="719" cy="554" r="3"/><circle cx="719" cy="566" r="3"/><circle cx="719" cy="579" r="3"/><circle cx="719" cy="592" r="3"/><circle cx="719" cy="605" r="3"/>
<text x="690" y="630" class="t" style="fill:#888">ADC Clock Mux</text>
<polygon points="712,639 727,647 727,687 712,695" class="mx"/>
<text x="677" y="644">PLL2P</text><text x="677" y="662">PLL3R</text><text x="677" y="680">PER_CK</text>
<circle cx="719" cy="648" r="3"/><circle cx="719" cy="666" r="3"/><circle cx="719" cy="683" r="3"/>
<text x="690" y="706" class="t" style="fill:#888">CEC Clock Mux</text>
<polygon points="712,712 727,720 727,766 712,774" class="mx"/>
<text x="677" y="719">LSE</text><text x="677" y="737">LSI</text><text x="677" y="755">CSI</text>
<circle cx="719" cy="722" r="3"/><circle cx="719" cy="740" r="3"/><circle cx="719" cy="740" r="1.2" style="fill:#888"/><circle cx="719" cy="758" r="3"/>
<text x="690" y="792" class="t" style="fill:#888">HRTIM Clock Mux</text>
<polygon points="712,797 727,805 727,837 712,845" class="mx"/>
<text x="677" y="805">Tim2_Ck</text><text x="677" y="826">Cpu_Ck</text>
<circle cx="719" cy="808" r="3"/><circle cx="719" cy="833" r="3"/>

<g marker-end="url(#a)">
<line x1="598" y1="276" x2="636" y2="276"/><line x1="598" y1="289" x2="636" y2="289"/><line x1="598" y1="301" x2="636" y2="301"/><line x1="598" y1="314" x2="636" y2="314"/><line x1="598" y1="327" x2="636" y2="327"/><line x1="598" y1="339" x2="636" y2="339"/>
<line x1="598" y1="380" x2="636" y2="380"/><line x1="598" y1="393" x2="636" y2="393"/><line x1="598" y1="407" x2="636" y2="407"/><line x1="598" y1="421" x2="636" y2="421"/><line x1="598" y1="434" x2="636" y2="434"/><line x1="598" y1="447" x2="636" y2="447"/>
<line x1="598" y1="483" x2="636" y2="483"/><line x1="598" y1="497" x2="636" y2="497"/><line x1="598" y1="510" x2="636" y2="510"/><line x1="598" y1="524" x2="636" y2="524"/><line x1="598" y1="537" x2="636" y2="537"/><line x1="598" y1="550" x2="636" y2="550"/>
<line x1="598" y1="585" x2="636" y2="585"/><line x1="598" y1="598" x2="636" y2="598"/><line x1="598" y1="610" x2="636" y2="610"/><line x1="598" y1="623" x2="636" y2="623"/><line x1="598" y1="636" x2="636" y2="636"/><line x1="598" y1="649" x2="636" y2="649"/>
<line x1="598" y1="681" x2="637" y2="681"/><line x1="598" y1="698" x2="637" y2="698"/><line x1="598" y1="715" x2="637" y2="715"/>
<line x1="598" y1="756" x2="636" y2="756"/><line x1="598" y1="777" x2="636" y2="777"/><line x1="598" y1="798" x2="636" y2="798"/>
<line x1="598" y1="844" x2="636" y2="844"/><line x1="598" y1="858" x2="636" y2="858"/><line x1="598" y1="873" x2="636" y2="873"/><line x1="598" y1="889" x2="636" y2="889"/>
<line x1="677" y1="232" x2="711" y2="232"/><line x1="677" y1="245" x2="711" y2="245"/><line x1="677" y1="258" x2="711" y2="258"/><line x1="677" y1="271" x2="711" y2="271"/><line x1="677" y1="284" x2="711" y2="284"/><line x1="677" y1="297" x2="711" y2="297"/>
<line x1="677" y1="333" x2="711" y2="333"/><line x1="677" y1="344" x2="711" y2="344"/><line x1="677" y1="355" x2="711" y2="355"/><line x1="677" y1="366" x2="711" y2="366"/><line x1="677" y1="377" x2="711" y2="377"/><line x1="677" y1="389" x2="711" y2="389"/>
<line x1="677" y1="436" x2="711" y2="436"/><line x1="677" y1="448" x2="711" y2="448"/><line x1="677" y1="459" x2="711" y2="459"/><line x1="677" y1="471" x2="711" y2="471"/><line x1="677" y1="483" x2="711" y2="483"/><line x1="677" y1="494" x2="711" y2="494"/>
<line x1="677" y1="541" x2="711" y2="541"/><line x1="677" y1="554" x2="711" y2="554"/><line x1="677" y1="566" x2="711" y2="566"/><line x1="677" y1="579" x2="711" y2="579"/><line x1="677" y1="592" x2="711" y2="592"/><line x1="677" y1="605" x2="711" y2="605"/>
<line x1="677" y1="648" x2="711" y2="648"/><line x1="677" y1="666" x2="711" y2="666"/><line x1="677" y1="683" x2="711" y2="683"/>
<line x1="677" y1="722" x2="711" y2="722"/><line x1="677" y1="740" x2="711" y2="740"/><line x1="677" y1="758" x2="711" y2="758"/>
<line x1="677" y1="808" x2="711" y2="808"/><line x1="677" y1="833" x2="711" y2="833"/>
<line x1="727" y1="266" x2="736" y2="266"/>
<line x1="652" y1="310" x2="736" y2="310"/>
<line x1="727" y1="367" x2="736" y2="367"/>
<line x1="652" y1="412" x2="736" y2="412"/>
<line x1="727" y1="473" x2="736" y2="473"/>
<line x1="652" y1="516" x2="736" y2="516"/>
<line x1="727" y1="575" x2="736" y2="575"/>
<line x1="652" y1="618" x2="736" y2="618"/>
<line x1="727" y1="666" x2="736" y2="666"/>
<line x1="652" y1="699" x2="736" y2="699"/>
<line x1="727" y1="739" x2="736" y2="739"/>
<line x1="652" y1="777" x2="736" y2="777"/>
<line x1="727" y1="818" x2="736" y2="818"/>
<line x1="652" y1="866" x2="736" y2="866"/>
</g>
<rect x="737" y="260" width="36" height="12" class="ba"/><text x="755" y="269" class="vd">120</text><text x="775" y="268" class="b">To USART1,6 (MHz)</text>
<rect x="737" y="304" width="36" height="12" class="bx"/><text x="755" y="313" class="v">120</text><text x="775" y="311" class="b" style="fill:#777">To USART2,3,4,5,7,8 (MHz)</text>
<rect x="737" y="361" width="36" height="12" class="bx"/><text x="755" y="370" class="v">120</text><text x="775" y="369" class="b" style="fill:#777">To LPUART1 (MHz)</text>
<rect x="737" y="406" width="36" height="12" class="bx"/><text x="755" y="415" class="v">120</text><text x="775" y="414" class="b" style="fill:#777">To LPTIM1 (MHz)</text>
<rect x="737" y="467" width="36" height="12" class="bx"/><text x="755" y="476" class="v">120</text><text x="775" y="474" class="b" style="fill:#777">To LPTIM3,4,5 (MHz)</text>
<rect x="737" y="510" width="36" height="12" class="bx"/><text x="755" y="519" class="v">120</text><text x="775" y="518" class="b" style="fill:#777">To LPTIM2 (MHz)</text>
<rect x="737" y="569" width="36" height="12" class="bx"/><text x="755" y="578" class="v">120</text><text x="775" y="577" class="b" style="fill:#777">To SPI6 (MHz)</text>
<rect x="737" y="612" width="36" height="12" class="bx"/><text x="755" y="621" class="v">120</text><text x="775" y="620" class="b" style="fill:#777">To SPI4,5 (MHz)</text>
<rect x="737" y="660" width="36" height="12" class="bx"/><text x="755" y="669" class="v">129</text><text x="775" y="668" class="b" style="fill:#777">To ADC (MHz)</text>
<rect x="737" y="693" width="36" height="12" class="ba"/><text x="755" y="702" class="vd">48</text><text x="775" y="701" class="b">To USB (MHz)</text>
<rect x="737" y="733" width="36" height="12" class="bx"/><text x="755" y="742" class="v">0.032</text><text x="775" y="741" class="b" style="fill:#777">To CEC (MHz)</text>
<rect x="737" y="771" width="36" height="12" class="bx"/><text x="755" y="780" class="v">480</text><text x="775" y="778" class="b" style="fill:#777">To FDCAN (MHz)</text>
<rect x="737" y="812" width="36" height="12" class="bx"/><text x="755" y="821" class="v">240</text><text x="775" y="819" class="b" style="fill:#777">To HRTIM (MHz)</text>
<rect x="737" y="860" width="36" height="12" class="bx"/><text x="755" y="869" class="v">64</text><text x="775" y="868" class="b" style="fill:#777">To TRACE (MHz)</text>

<text x="762" y="911" style="font-size:15px;fill:#d8d8d8">https://blog.csdn.net/hwytree</text>
</svg>
</body></html>
